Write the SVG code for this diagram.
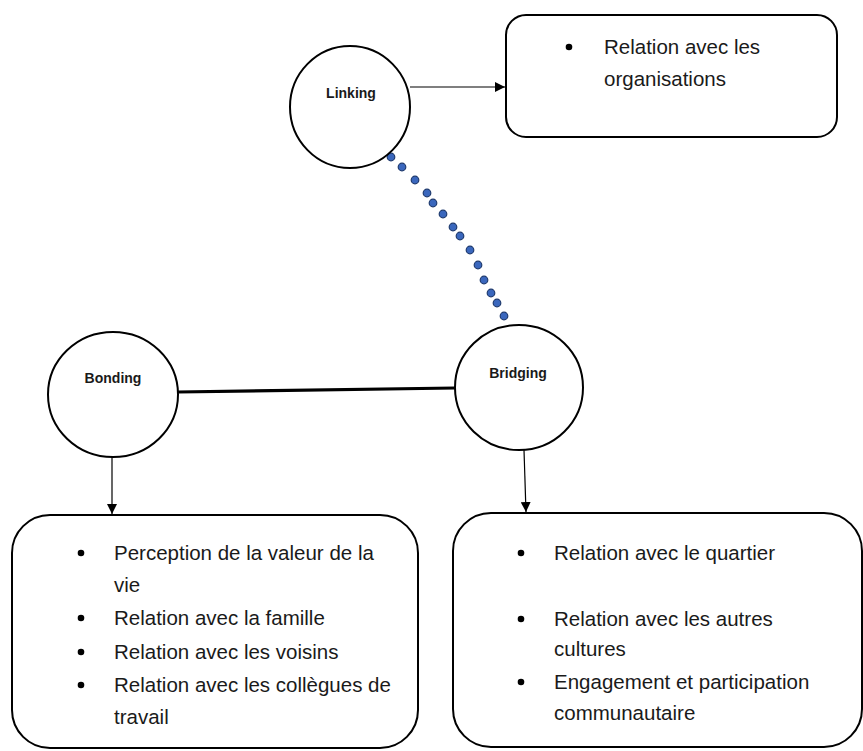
<svg xmlns="http://www.w3.org/2000/svg" width="863" height="751" viewBox="0 0 863 751">
<style>
.bg{fill:#ffffff}
.shape{fill:#ffffff;stroke:#000000;stroke-width:2}
.lbl{font-family:"Liberation Sans",Arial,sans-serif;font-weight:bold;font-size:14px;fill:#1a1a1a;text-anchor:middle}
.txt{font-family:"Liberation Sans",Arial,sans-serif;font-size:20.5px;fill:#1a1a1a}
.arrow{stroke:#000000;stroke-width:1.2;fill:none}
.thick{stroke:#000000;stroke-width:3.2;fill:none}
.dot{fill:#3a67bd;stroke:#1f3a6e;stroke-width:1.2}
.bullet{fill:#000000}
</style>
<defs>
<marker id="ah" viewBox="0 0 10 10" refX="10" refY="5" markerWidth="10" markerHeight="10" markerUnits="userSpaceOnUse" orient="auto">
<path d="M0,0 L10,5 L0,10 Z" fill="#000000"/>
</marker>
</defs>
<rect class="bg" x="0" y="0" width="863" height="751"/>

<g id="connectors">
<line class="arrow" x1="410" y1="87" x2="505" y2="87" marker-end="url(#ah)"/>
<line class="thick" x1="178" y1="392" x2="455" y2="388"/>
<line class="arrow" x1="112" y1="457" x2="112" y2="514" marker-end="url(#ah)"/>
<line class="arrow" x1="524" y1="450" x2="526" y2="512" marker-end="url(#ah)"/>
<g id="dotted">
<circle class="dot" cx="391" cy="157" r="3.8"/>
<circle class="dot" cx="402" cy="167" r="3.8"/>
<circle class="dot" cx="415" cy="180" r="3.8"/>
<circle class="dot" cx="427" cy="193" r="3.8"/>
<circle class="dot" cx="433" cy="203" r="3.8"/>
<circle class="dot" cx="443" cy="214" r="3.8"/>
<circle class="dot" cx="453" cy="227" r="3.8"/>
<circle class="dot" cx="460" cy="236" r="3.8"/>
<circle class="dot" cx="470" cy="250" r="3.8"/>
<circle class="dot" cx="478" cy="265" r="3.8"/>
<circle class="dot" cx="484" cy="280" r="3.8"/>
<circle class="dot" cx="491" cy="293" r="3.8"/>
<circle class="dot" cx="497" cy="303" r="3.8"/>
<circle class="dot" cx="504" cy="316" r="3.8"/>
</g>
</g>

<g id="linking">
<ellipse class="shape" cx="350" cy="107" rx="60" ry="61"/>
<text class="lbl" x="351" y="98">Linking</text>
</g>

<g id="bonding">
<ellipse class="shape" cx="113" cy="394.5" rx="65" ry="62.5"/>
<text class="lbl" x="113" y="383">Bonding</text>
</g>

<g id="bridging">
<ellipse class="shape" cx="519" cy="387.5" rx="64" ry="62.5"/>
<text class="lbl" x="518" y="378">Bridging</text>
</g>

<g id="box-linking">
<rect class="shape" x="506" y="15" width="331" height="122" rx="20" ry="20"/>
<circle class="bullet" cx="569" cy="47" r="3.3"/>
<text class="txt" x="604" y="54">Relation avec les</text>
<text class="txt" x="604" y="86">organisations</text>
</g>

<g id="box-bonding">
<rect class="shape" x="12" y="515" width="406" height="233" rx="38" ry="38"/>
<circle class="bullet" cx="81" cy="553" r="3.3"/>
<text class="txt" x="114" y="560">Perception de la valeur de la</text>
<text class="txt" x="114" y="592">vie</text>
<circle class="bullet" cx="81" cy="618" r="3.3"/>
<text class="txt" x="114" y="625">Relation avec la famille</text>
<circle class="bullet" cx="81" cy="652" r="3.3"/>
<text class="txt" x="114" y="659">Relation avec les voisins</text>
<circle class="bullet" cx="81" cy="685" r="3.3"/>
<text class="txt" x="114" y="692">Relation avec les collègues de</text>
<text class="txt" x="114" y="724">travail</text>
</g>

<g id="box-bridging">
<rect class="shape" x="453" y="513" width="409" height="234" rx="38" ry="38"/>
<circle class="bullet" cx="521" cy="553" r="3.3"/>
<text class="txt" x="554" y="560">Relation avec le quartier</text>
<circle class="bullet" cx="521" cy="619" r="3.3"/>
<text class="txt" x="554" y="626">Relation avec les autres</text>
<text class="txt" x="554" y="656">cultures</text>
<circle class="bullet" cx="521" cy="682" r="3.3"/>
<text class="txt" x="554" y="689">Engagement et participation</text>
<text class="txt" x="554" y="720">communautaire</text>
</g>
</svg>
